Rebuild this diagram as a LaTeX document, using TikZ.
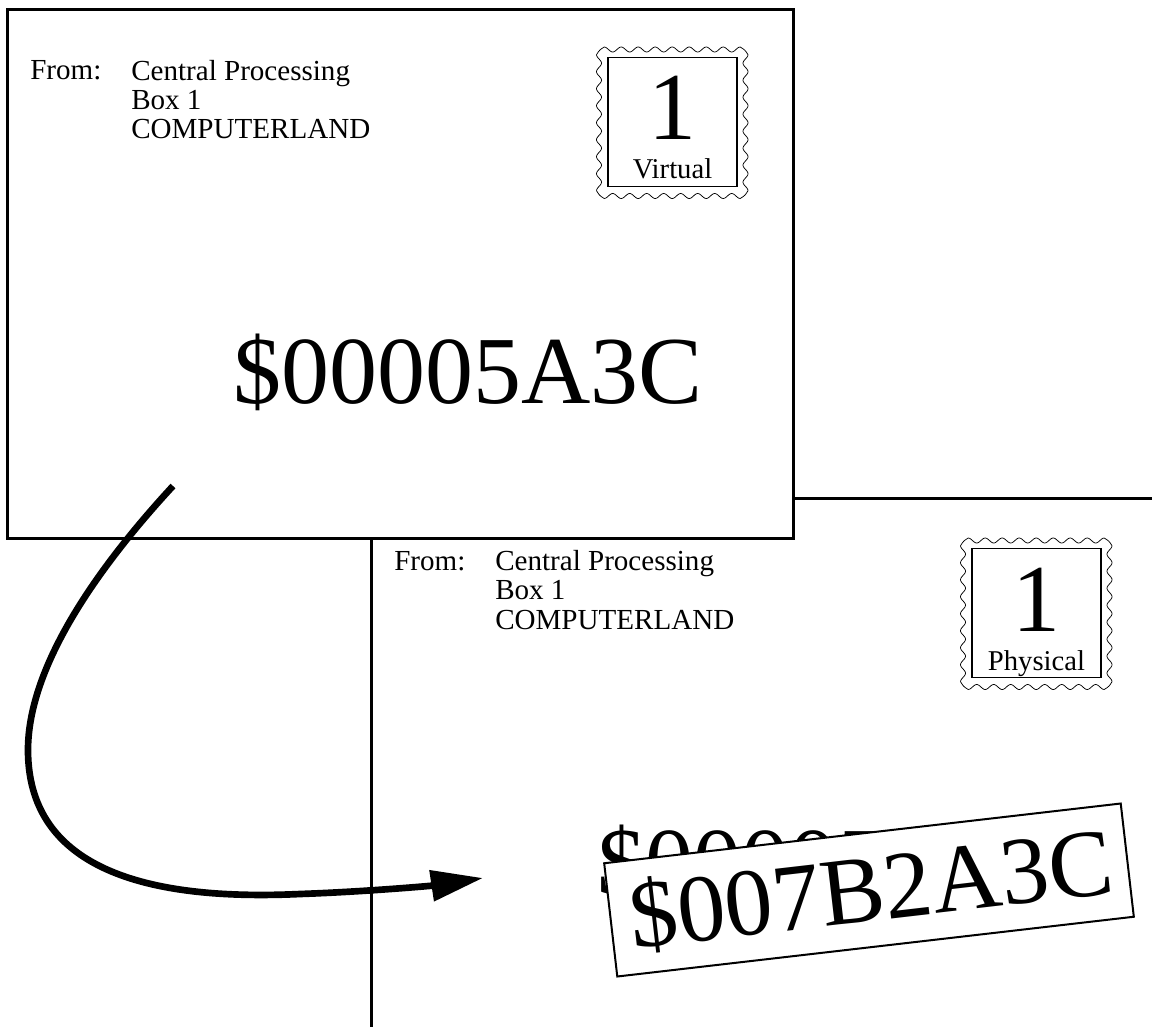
\documentclass[tikz,border=0pt]{standalone}
\usepackage{fontspec}
\setmainfont{Liberation Serif}
\usetikzlibrary{arrows.meta}

\begin{document}
\begin{tikzpicture}[
  x=0.75pt,y=-0.75pt,
  declare function={scallop(\t)=2.5*(1-cos((\t-7.7)/17*360));},
  envelope/.style={draw=black,line width=2.25pt},
  perfline/.style={draw=black,line width=0.55pt},
  addrtext/.style={anchor=base west,inner sep=0pt,align=left,font=\fontsize{21.8}{22.1}\selectfont},
  bigtext/.style={anchor=base west,inner sep=0pt,font=\fontsize{72}{72}\selectfont},
  swoosh/.style={-{Triangle[length=39pt,width=22.5pt]},line width=5pt,draw=black},
  stamp/.pic={
    \draw[perfline] plot[domain=7.7:143.7,samples=120] (\x,{scallop(\x)});
    \draw[perfline] plot[domain=7.7:143.7,samples=120] (\x,{151.5-scallop(\x)});
    \draw[perfline] plot[domain=7.7:143.7,samples=120] ({scallop(\x)},\x);
    \draw[perfline] plot[domain=7.7:143.7,samples=120] ({151.5-scallop(\x)},\x);
    \draw[perfline] (0,7.7) .. controls (3,3) .. (7.7,0);
    \draw[perfline] (143.7,0) .. controls (148.5,3) .. (151.5,7.7);
    \draw[perfline] (0,143.7) .. controls (3,148.5) .. (7.7,151.5);
    \draw[perfline] (143.7,151.5) .. controls (148.5,148.5) .. (151.5,143.7);
    \draw[draw=black,line width=0.9pt] (11.5,10.5) rectangle (140.5,139.5);
    \node[anchor=base,inner sep=0pt,font=\fontsize{72}{72}\selectfont] (-num) at (76,93) {1};
    \node[anchor=base,inner sep=0pt,font=\fontsize{21.5}{22}\selectfont] (-label) at (76,132) {#1};
  }]
\useasboundingbox (0,0) rectangle (1152,1027);
\coordinate (backtop) at (793,498);
\coordinate (backtopend) at (1152,498);
\coordinate (backleft) at (371,538);
\coordinate (backleftend) at (371,1027);
\draw[envelope] (backtop)--(backtopend);
\draw[envelope] (backleft)--(backleftend);
% physical address side
\node[addrtext] (fromb) at (394,570) {From:};
\node[addrtext] (addrb) at (495,629) {Central Processing\\Box 1\\COMPUTERLAND};
\pic (stampb) at (960.5,538) {stamp={Physical}};
\node[bigtext] (oldaddr) at (597,894) {\$00005A3C};
\node[draw=black,line width=1.5pt,fill=white,minimum width=390pt,minimum height=85.5pt,
  inner sep=0pt,rotate=6.6,font=\fontsize{72}{72}\selectfont] (newaddr) at (869,890) {\hspace*{3pt}\raisebox{-3pt}{\$007B2A3C}};
% virtual address side
\node[envelope,fill=white,minimum width=589.5pt,minimum height=396pt,inner sep=0pt] (front) at (400,274) {};
\node[addrtext] (froma) at (30,80) {From:};
\node[addrtext] (addra) at (131,139) {Central Processing\\Box 1\\COMPUTERLAND};
\pic (stampa) at (596.5,47) {stamp={Virtual}};
\node[bigtext] (virtaddr) at (233,403.5) {\$00005A3C};
\coordinate (curvestart) at (173,486);
\coordinate (curveend) at (483,878);
\draw[swoosh] (curvestart) .. controls (100,565) and (28,665) .. (28,750)
  .. controls (28,880) and (170,900) .. (300,894)
  .. controls (360,892) and (430,886) .. (curveend);
\end{tikzpicture}
\end{document}
